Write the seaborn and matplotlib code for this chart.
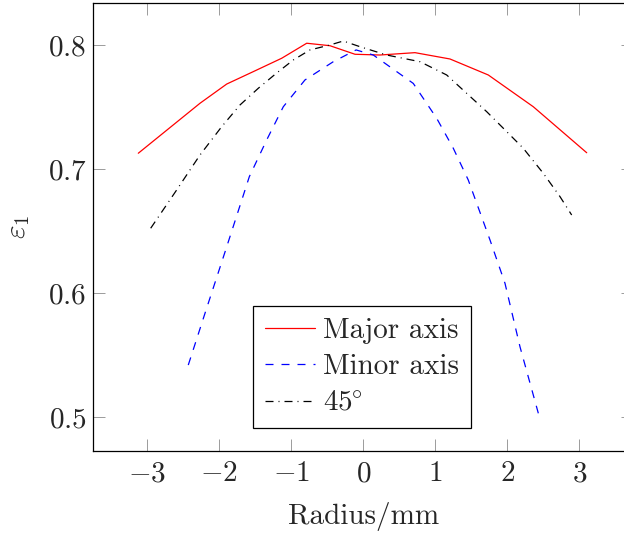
import numpy as np
import pandas as pd
import matplotlib
matplotlib.use("Agg")
import matplotlib.pyplot as plt
import seaborn as sns

# ---- data ----
major_x = [-3.125, -2.268, -1.897, -1.528, -1.133, -0.786, -0.463, -0.115, 0.231, 0.718, 1.204, 1.736, 2.361, 3.103]
major_y = [0.7127, 0.7530, 0.7685, 0.7785, 0.7893, 0.8014, 0.7994, 0.7925, 0.7919, 0.7938, 0.7887, 0.7758, 0.7502, 0.7131]

minor_x = [-2.431, -2.199, -1.897, -1.583, -1.342, -1.111, -0.810, -0.417, -0.10, 0.139, 0.694, 1.019, 1.250, 1.458, 1.760, 1.968, 2.176, 2.431]
minor_y = [0.5419, 0.5836, 0.6373, 0.6938, 0.7234, 0.7502, 0.7718, 0.7865, 0.7960, 0.7919, 0.7690, 0.7409, 0.7167, 0.6911, 0.6427, 0.6078, 0.5567, 0.5030]

diag_x = [-2.953, -2.592, -2.268, -1.967, -1.713, -1.458, -1.203, -0.972, -0.740, -0.463, -0.278, -0.046, 0.325, 0.788, 1.158, 1.436, 1.714, 1.992, 2.222, 2.500, 2.732, 2.894]
diag_y = [0.6522, 0.6831, 0.7113, 0.7341, 0.7516, 0.7651, 0.7774, 0.7879, 0.7960, 0.8000, 0.8032, 0.7986, 0.7919, 0.7865, 0.7758, 0.7610, 0.7462, 0.7301, 0.7167, 0.6965, 0.6777, 0.6629]

labels = ["Major axis", "Minor axis", r"$45^{\!\!\circ}$"]
x_ticks = [-3, -2, -1, 0, 1, 2, 3]
y_ticks = [0.5, 0.6, 0.7, 0.8]

df = pd.concat([
    pd.DataFrame({"r": major_x, "eps": major_y, "dir": labels[0]}),
    pd.DataFrame({"r": minor_x, "eps": minor_y, "dir": labels[1]}),
    pd.DataFrame({"r": diag_x, "eps": diag_y, "dir": labels[2]}),
])

sns.set_style("ticks")
plt.rcParams.update({
    "font.family": "serif",
    "font.serif": ["cmr10"],
    "mathtext.fontset": "cm",
    "axes.formatter.use_mathtext": True,
    "axes.unicode_minus": True,
    "font.size": 21,
})

fig = plt.figure(figsize=(6.24, 5.35), dpi=100)
W, H = 624, 535
left, right, top, bottom = 93.3, 633.3, 3.3, 451.0
ax = fig.add_axes([left / W, 1 - bottom / H, (right - left) / W, (bottom - top) / H])

lw = 0.9
colors = {labels[0]: "#ff0000", labels[1]: "#0000ff", labels[2]: "#000000"}
dashes = {labels[0]: None, labels[1]: (6.4, 6.4), labels[2]: (6.4, 4, 0.8, 4)}
for lab in labels:
    sub = df[df["dir"] == lab]
    sns.lineplot(data=sub, x="r", y="eps", ax=ax, color=colors[lab], lw=lw,
                 estimator=None, sort=False, label=lab)
    line = ax.lines[-1]
    if dashes[lab] is not None:
        line.set_dashes(dashes[lab])

ax.set_xlim(-3.75, 3.75)
ax.set_ylim(0.4726, 0.8336)
ax.set_xticks(x_ticks)
ax.set_yticks(y_ticks)
ax.set_xticklabels([f"${t}$" if t >= 0 else f"$-{abs(t)}$" for t in x_ticks])
ax.set_yticklabels([f"${t:.1f}$" for t in y_ticks])
ax.tick_params(direction="in", length=8.8, width=0.6, color="#8c8c8c",
               top=True, right=True, labelsize=21)
ax.tick_params(axis="x", pad=7)
ax.tick_params(axis="y", pad=5)
for s in ax.spines.values():
    s.set_linewidth(0.9)
    s.set_color("black")

ax.set_xlabel("Radius/mm", fontsize=21, labelpad=11)
ax.set_ylabel(r"$\varepsilon_1$", fontsize=21, labelpad=11)

leg = ax.legend(loc="upper left", bbox_to_anchor=(0.2965, 0.3239), borderaxespad=0,
                frameon=True, fancybox=False, framealpha=1, edgecolor="black",
                fontsize=21, handlelength=1.7, handletextpad=0.3, borderpad=0.4,
                labelspacing=0.34)
leg.get_frame().set_linewidth(0.9)
for h in leg.get_lines():
    h.set_linewidth(lw)

fig.savefig("out.png", dpi=100)
